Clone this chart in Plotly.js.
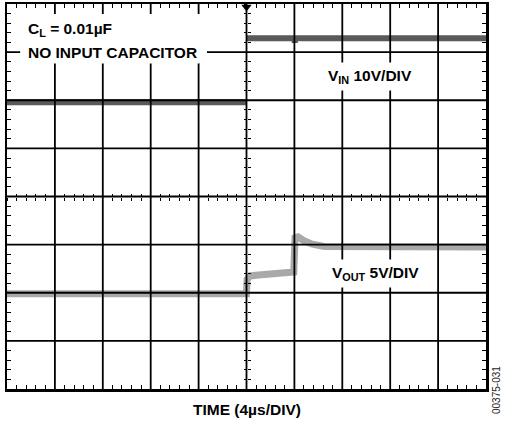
<!DOCTYPE html>
<html>
<head>
<meta charset="utf-8">
<script src="https://cdn.plot.ly/plotly-3.0.1.min.js"></script>
<style>html,body{margin:0;padding:0;background:#fff;}#chart{width:509px;height:423px;}</style>
</head>
<body>
<div id="chart"></div>
<script>
// Time in microseconds (4 µs/div), vertical in scope divisions
const vinTime = [-20, 0, null, 0, 3.98, 4.03, 4.08, 20];
const vinDiv  = [1.96, 1.96, null, 3.29, 3.29, 3.2, 3.29, 3.29];

const voutTime = [-20, 0, 0.05, 0.3, 1, 2, 3, 3.95, 4.05, 4.3, 4.8, 5.5, 6.5, 20];
const voutDiv  = [-2.02, -2.02, -1.72, -1.65, -1.63, -1.61, -1.58, -1.57, -0.86, -0.84, -0.92, -0.99, -1.04, -1.05];

const xGrid = [-16, -12, -8, -4, 0, 4, 8, 12, 16];
const yGrid = [-3, -2, -1, 0, 1, 2, 3];

const FONT = 'Liberation Sans, Arial, Helvetica, sans-serif';

const traces = [
  {x: voutTime, y: voutDiv, type: 'scatter', mode: 'lines',
   line: {color: '#a9a9a9', width: 7}, hoverinfo: 'skip', showlegend: false},
  {x: vinTime, y: vinDiv, type: 'scatter', mode: 'lines', connectgaps: false,
   line: {color: '#5a5a5a', width: 6}, hoverinfo: 'skip', showlegend: false},
  {x: [0], y: [3.94], type: 'scatter', mode: 'markers', cliponaxis: false,
   marker: {symbol: 'triangle-down', size: 9, color: '#000'}, hoverinfo: 'skip', showlegend: false},
  {x: [], y: [], xaxis: 'x2', yaxis: 'y2', type: 'scatter', showlegend: false},
  {x: [], y: [], xaxis: 'x3', yaxis: 'y3', type: 'scatter', showlegend: false}
];

const shapes = [];
xGrid.forEach(v => shapes.push({type: 'line', layer: 'above', xref: 'x', yref: 'paper',
  x0: v, x1: v, y0: 0, y1: 1, line: {color: '#000', width: 1.8}}));
yGrid.forEach(v => shapes.push({type: 'line', layer: 'above', xref: 'paper', yref: 'y',
  x0: 0, x1: 1, y0: v, y1: v, line: {color: '#000', width: 1.8}}));
// white box behind the top-left labels
shapes.push({type: 'rect', layer: 'above', xref: 'x', yref: 'y',
  x0: -18.9, x1: -3.3, y0: 2.78, y1: 3.79, fillcolor: '#fff', line: {width: 0}});

const baseX = {range: [-20, 20], showgrid: false, zeroline: false, showticklabels: false, fixedrange: true};
const baseY = {range: [-4, 4], showgrid: false, zeroline: false, showticklabels: false, fixedrange: true};

const layout = {
  width: 509, height: 423, autosize: false,
  margin: {l: 7, r: 23, t: 4, b: 34, pad: 0},
  paper_bgcolor: '#fff', plot_bgcolor: '#fff',
  showlegend: false,
  font: {family: FONT, color: '#000'},
  xaxis: Object.assign({}, baseX, {
    showline: true, linecolor: '#000', linewidth: 2.5, mirror: 'allticks',
    ticks: 'inside', ticklen: 4, tickcolor: '#000', tickwidth: 1, dtick: 4, tick0: 0,
    minor: {ticks: 'inside', ticklen: 4, tickcolor: '#000', tickwidth: 1, dtick: 0.8, tick0: 0, showgrid: false},
    layer: 'above traces'
  }),
  yaxis: Object.assign({}, baseY, {
    showline: true, linecolor: '#000', linewidth: 2.5, mirror: 'allticks',
    ticks: 'inside', ticklen: 4, tickcolor: '#000', tickwidth: 1, dtick: 1, tick0: 0,
    minor: {ticks: 'inside', ticklen: 4, tickcolor: '#000', tickwidth: 1, dtick: 0.2, tick0: 0, showgrid: false},
    layer: 'above traces'
  }),
  xaxis2: Object.assign({}, baseX, {overlaying: 'x', anchor: 'free', position: 0.5, side: 'bottom',
    showline: false, ticks: 'outside', ticklen: 3, tickcolor: '#000', tickwidth: 1, dtick: 4, tick0: 0,
    minor: {ticks: 'outside', ticklen: 3, tickcolor: '#000', tickwidth: 1, dtick: 0.8, tick0: 0, showgrid: false},
    layer: 'above traces'}),
  xaxis3: Object.assign({}, baseX, {overlaying: 'x', anchor: 'free', position: 0.5, side: 'bottom',
    showline: false, ticks: 'inside', ticklen: 3, tickcolor: '#000', tickwidth: 1, dtick: 4, tick0: 0,
    minor: {ticks: 'inside', ticklen: 3, tickcolor: '#000', tickwidth: 1, dtick: 0.8, tick0: 0, showgrid: false},
    layer: 'above traces'}),
  yaxis2: Object.assign({}, baseY, {overlaying: 'y', anchor: 'free', position: 0.5, side: 'left',
    showline: false, ticks: 'outside', ticklen: 3, tickcolor: '#000', tickwidth: 1, dtick: 1, tick0: 0,
    minor: {ticks: 'outside', ticklen: 3, tickcolor: '#000', tickwidth: 1, dtick: 0.2, tick0: 0, showgrid: false},
    layer: 'above traces'}),
  yaxis3: Object.assign({}, baseY, {overlaying: 'y', anchor: 'free', position: 0.5, side: 'left',
    showline: false, ticks: 'inside', ticklen: 3, tickcolor: '#000', tickwidth: 1, dtick: 1, tick0: 0,
    minor: {ticks: 'inside', ticklen: 3, tickcolor: '#000', tickwidth: 1, dtick: 0.2, tick0: 0, showgrid: false},
    layer: 'above traces'}),
  shapes: shapes,
  annotations: [
    {text: '<b>C<sub>L</sub> = 0.01µF</b>', xref: 'paper', yref: 'paper', x: 0.04, y: 0.935,
     xanchor: 'left', yanchor: 'middle', showarrow: false, font: {size: 15.5, family: FONT, color: '#000'}},
    {text: '<b>NO INPUT CAPACITOR</b>', xref: 'paper', yref: 'y', x: 0.038, y: 3,
     xanchor: 'left', yanchor: 'middle', showarrow: false, bgcolor: '#fff', borderpad: 2,
     font: {size: 15.5, family: FONT, color: '#000'}},
    {text: '<b>V<sub>IN</sub> 10V/DIV</b>', xref: 'x', yref: 'y', x: 10.3, y: 2.5,
     xanchor: 'center', yanchor: 'middle', showarrow: false, bgcolor: '#fff', borderpad: 4,
     font: {size: 15.5, family: FONT, color: '#000'}},
    {text: '<b>V<sub>OUT</sub> 5V/DIV</b>', xref: 'x', yref: 'y', x: 10.8, y: -1.6,
     xanchor: 'center', yanchor: 'middle', showarrow: false, bgcolor: '#fff', borderpad: 4,
     font: {size: 15.5, family: FONT, color: '#000'}},
    {text: '<b>TIME (4µs/DIV)</b>', xref: 'paper', yref: 'paper', x: 0.5, y: 0,
     xanchor: 'center', yanchor: 'top', yshift: -10, showarrow: false,
     font: {size: 15.5, family: FONT, color: '#000'}},
    {text: '00375-031', xref: 'paper', yref: 'paper', x: 1, y: 0, xshift: 10, yshift: -1,
     xanchor: 'center', yanchor: 'middle', textangle: -90, showarrow: false,
     font: {size: 10, family: FONT, color: '#222'}}
  ]
};

Plotly.newPlot('chart', traces, layout, {staticPlot: true, displayModeBar: false});
</script>
</body>
</html>
